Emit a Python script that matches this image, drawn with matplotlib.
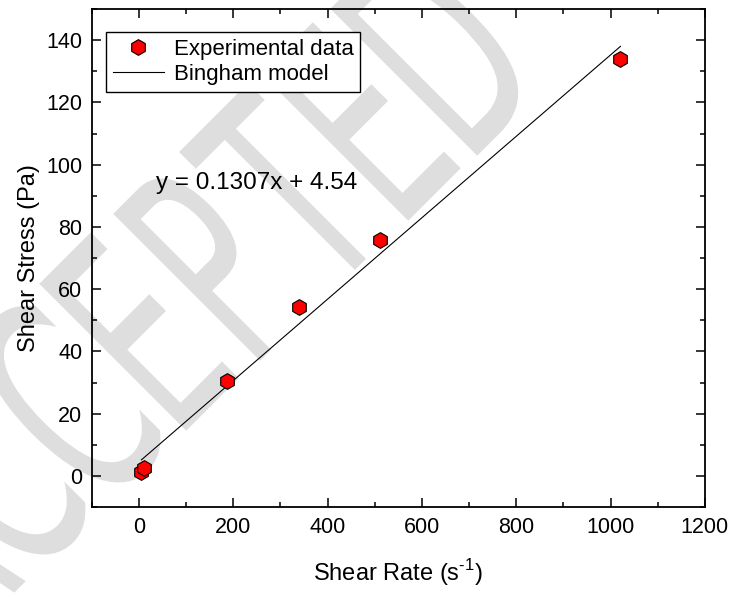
"""Bingham model fit of shear stress vs shear rate."""

import numpy as np
import matplotlib
matplotlib.use('Agg')
import matplotlib.pyplot as plt
from matplotlib.ticker import MultipleLocator
from matplotlib.textpath import TextPath
from matplotlib.font_manager import FontProperties
from matplotlib.patches import PathPatch
from matplotlib.transforms import Affine2D, IdentityTransform

plt.rcParams.update({
    'font.family': ['Liberation Sans', 'DejaVu Sans'],
    'mathtext.fontset': 'custom',
    'mathtext.rm': 'Liberation Sans',
})

# ── Data ──────────────────────────────────────────────────────────────────────
shear_rate   = [5.1, 10.2, 187.0, 340.0, 511.0, 1021.0]
shear_stress = [1.4, 2.6, 30.6, 54.2, 75.8, 133.8]

slope, intercept = 0.1307, 4.54
fit_x = [5.1, 1021.0]

W, H = 735, 596
fig = plt.figure(figsize=(W / 100, H / 100), dpi=100, facecolor='white')

# ── Watermark (condensed letters along a 45° diagonal, pixel coords) ─────────
wm_letters = 'ACCEPTED'
wm_centres = [(-85, 545), (-10, 473), (65, 401), (139, 331),
              (213, 261), (287, 191), (361, 121), (438, 48)]
fp = FontProperties(family='DejaVu Sans')
for ch, (cx, cy) in zip(wm_letters, wm_centres):
    tp = TextPath((0, 0), ch, size=1, prop=fp)
    ext = tp.get_extents()
    tr = (Affine2D()
          .translate(-(ext.x0 + ext.x1) / 2, -0.729 / 2)
          .scale(158, 285)
          .rotate_deg(45)
          .translate(cx, H - cy))
    fig.add_artist(PathPatch(tr.transform_path(tp), facecolor='#DEDEDE',
                             edgecolor='none', transform=IdentityTransform(),
                             zorder=-5))

ax = fig.add_axes([0.125, 0.149, 0.834, 0.836])
ax.patch.set_alpha(0)

fx = np.array(fit_x)
ax.plot(fx, slope * fx + intercept, color='black', lw=0.8,
        label='Bingham model', zorder=2)
ax.plot(shear_rate, shear_stress, linestyle='none', marker='h',
        markersize=11.3, markerfacecolor='#FF0000', markeredgecolor='black',
        markeredgewidth=0.8, label='Experimental data', zorder=3)

ax.text(35, 94, 'y = 0.1307x + 4.54', fontsize=17.5, ha='left', va='center')

ax.set_xlim(-100, 1200)
ax.set_ylim(-10, 150)
ax.xaxis.set_major_locator(MultipleLocator(200))
ax.xaxis.set_minor_locator(MultipleLocator(100))
ax.yaxis.set_minor_locator(MultipleLocator(10))
ax.set_yticks(range(0, 141, 20))
ax.tick_params(which='both', direction='in', top=True, right=True,
               labelsize=15.5, width=1.1, colors='black')
ax.tick_params(which='major', length=6.5, pad=7)
ax.tick_params(which='minor', length=3.5)
for s in ax.spines.values():
    s.set_linewidth(1.3)

ax.set_xlabel('Shear Rate (s$^{\\mathregular{\u2010}1}$)', fontsize=17, labelpad=14)
ax.set_ylabel('Shear Stress (Pa)', fontsize=17, labelpad=4)

handles, labels = ax.get_legend_handles_labels()
leg = ax.legend(handles[::-1], labels[::-1], loc='upper left',
                bbox_to_anchor=(0.023, 0.954), borderaxespad=0,
                fontsize=16, numpoints=1, handlelength=2.3,
                handletextpad=0.45, labelspacing=0.2, borderpad=0.3,
                fancybox=False, framealpha=1, edgecolor='black')
leg.get_frame().set_linewidth(1.0)

fig.savefig('out.png', dpi=100)
